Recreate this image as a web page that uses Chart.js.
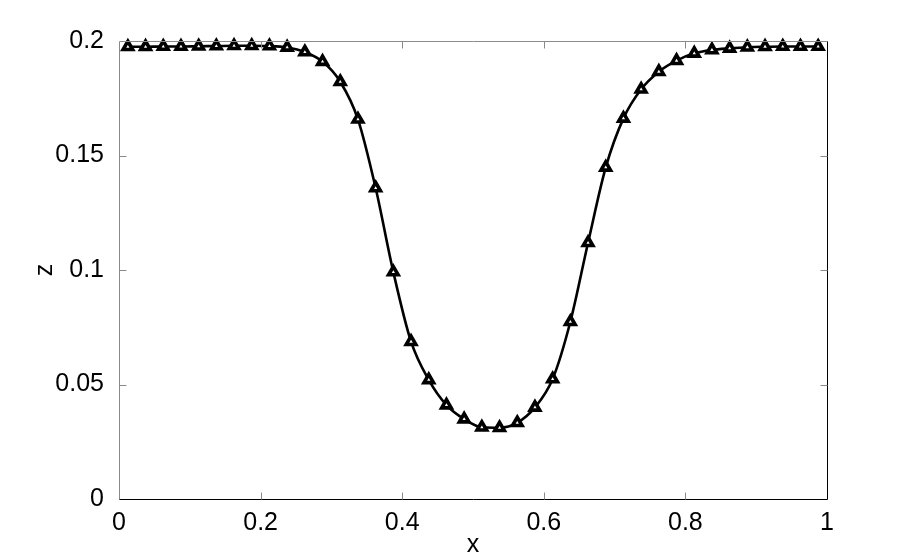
<!DOCTYPE html>
<html lang="en">
<head>
<meta charset="UTF-8" />
<title>z(x)</title>
<script src="https://cdn.jsdelivr.net/npm/chart.js"></script>
<style>
  html, body { margin: 0; padding: 0; background: #fff; }
  #wrap { width: 913px; height: 560px; }
</style>
</head>
<body>
<div id="wrap"><canvas id="myChart" width="913" height="560"></canvas></div>
<script>
// sample positions (spacing 0.025)
const xValues = [
  0.0125, 0.0375, 0.0625, 0.0875, 0.1125, 0.1375, 0.1625, 0.1875, 0.2125, 0.2375,
  0.2625, 0.2875, 0.3125, 0.3375, 0.3625, 0.3875, 0.4125, 0.4375, 0.4625, 0.4875,
  0.5125, 0.5375, 0.5625, 0.5875, 0.6125, 0.6375, 0.6625, 0.6875, 0.7125, 0.7375,
  0.7625, 0.7875, 0.8125, 0.8375, 0.8625, 0.8875, 0.9125, 0.9375, 0.9625, 0.9875
];
const zValues = [
  0.1975, 0.1975, 0.1976, 0.1976, 0.1977, 0.1978, 0.1979, 0.1979, 0.1978, 0.1972,
  0.1952, 0.1910, 0.1822, 0.1658, 0.1358, 0.0991, 0.0687, 0.0520, 0.0410, 0.0349,
  0.0313, 0.0311, 0.0333, 0.0400, 0.0524, 0.0774, 0.1119, 0.1448, 0.1662, 0.1789,
  0.1866, 0.1914, 0.1946, 0.1961, 0.1968, 0.1973, 0.1975, 0.1976, 0.1976, 0.1976
];
const xTicks = [0, 0.2, 0.4, 0.6, 0.8, 1];
const yTicks = [0, 0.05, 0.1, 0.15, 0.2];
const xTitle = "x";
const yTitle = "z";

const points = xValues.map((x, i) => ({ x: x, y: zValues[i] }));
const fontFamily = "'Liberation Sans', Arial, Helvetica, sans-serif";

// box + inward tick marks like matlab
const boxPlugin = {
  id: "box",
  afterDraw(chart) {
    const ctx = chart.ctx;
    const a = chart.chartArea;
    const sx = chart.scales.x, sy = chart.scales.y;
    const L = Math.round(a.left) + 0.5, R = Math.round(a.right) + 0.5;
    const T = Math.round(a.top) + 0.5, B = Math.round(a.bottom) + 0.5;
    ctx.save();
    ctx.lineWidth = 1;
    ctx.strokeStyle = "#8a8a8a";
    ctx.beginPath();
    ctx.moveTo(L, B); ctx.lineTo(L, T); ctx.lineTo(R, T);
    ctx.stroke();
    ctx.strokeStyle = "#000";
    ctx.beginPath();
    ctx.moveTo(L, B); ctx.lineTo(R, B); ctx.lineTo(R, T);
    ctx.stroke();
    ctx.strokeStyle = "#8a8a8a";
    const len = 7;
    ctx.beginPath();
    xTicks.forEach((v) => {
      const px = Math.round(sx.getPixelForValue(v)) + 0.5;
      if (v === 0 || v === 1) return;
      ctx.moveTo(px, B); ctx.lineTo(px, B - len);
      ctx.moveTo(px, T); ctx.lineTo(px, T + len);
    });
    yTicks.forEach((v) => {
      const py = Math.round(sy.getPixelForValue(v)) + 0.5;
      if (v === 0 || v === 0.2) return;
      ctx.moveTo(L, py); ctx.lineTo(L + len, py);
      ctx.moveTo(R, py); ctx.lineTo(R - len, py);
    });
    ctx.stroke();
    ctx.restore();
  }
};

new Chart(document.getElementById("myChart").getContext("2d"), {
  type: "line",
  data: {
    datasets: [{
      data: points,
      borderColor: "#000",
      borderWidth: 2.6,
      cubicInterpolationMode: "monotone",
      pointStyle: "triangle",
      pointRadius: 5.5,
      pointBorderWidth: 3.6,
      pointBorderColor: "#000",
      pointBackgroundColor: "#fff",
      clip: false
    }]
  },
  options: {
    responsive: false,
    animation: false,
    layout: { padding: { top: 41, right: 86, left: 0, bottom: 0 } },
    plugins: { legend: { display: false }, tooltip: { enabled: false } },
    scales: {
      x: {
        type: "linear",
        min: 0, max: 1,
        afterBuildTicks: (s) => { s.ticks = xTicks.map((v) => ({ value: v })); },
        afterFit: (s) => { s.height = 61; },
        grid: { display: false },
        border: { display: false },
        ticks: {
          color: "#000",
          font: { family: fontFamily, size: 25 },
          padding: 1,
          maxRotation: 0,
          callback: (v) => String(v)
        },
        title: {
          display: true, text: xTitle, color: "#000",
          font: { family: fontFamily, size: 25 }, padding: { top: -7, bottom: 0 }
        }
      },
      y: {
        type: "linear",
        min: 0, max: 0.2,
        afterBuildTicks: (s) => { s.ticks = yTicks.map((v) => ({ value: v })); },
        afterFit: (s) => { s.width = 119; },
        grid: { display: false },
        border: { display: false },
        ticks: {
          color: "#000",
          font: { family: fontFamily, size: 25 },
          padding: 7,
          callback: (v) => String(v)
        },
        title: {
          display: true, text: yTitle, color: "#000",
          font: { family: fontFamily, size: 25 }, padding: { top: 30, bottom: 0 }
        }
      }
    }
  },
  plugins: [boxPlugin]
});
</script>
</body>
</html>
